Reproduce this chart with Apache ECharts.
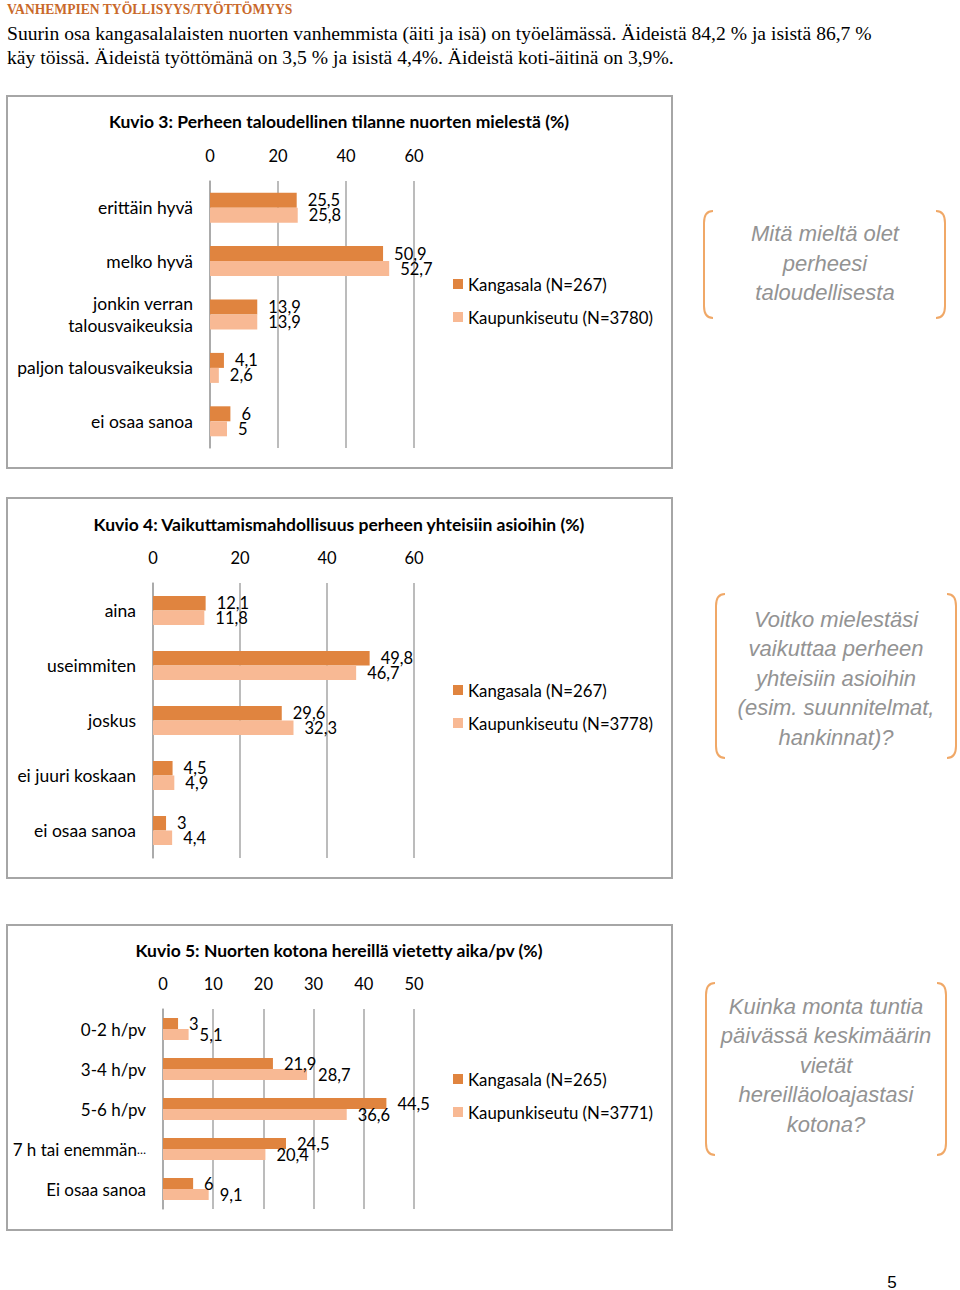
<!DOCTYPE html>
<html><head><meta charset="utf-8">
<script src="https://cdn.jsdelivr.net/npm/echarts@6/dist/echarts.min.js"></script>
<style>html,body{margin:0;padding:0;background:#fff}#c{width:960px;height:1290px}</style>
</head><body><div id="c"></div>
<script>
// ---- Data ----
const cats1 = ['erittäin hyvä', 'melko hyvä', 'jonkin verran\ntalousvaikeuksia', 'paljon talousvaikeuksia', 'ei osaa sanoa'];
const kangasala1 = [25.5, 50.9, 13.9, 4.1, 6];
const kaupunki1 = [25.8, 52.7, 13.9, 2.6, 5];
const names1 = ['Kangasala (N=267)', 'Kaupunkiseutu (N=3780)'];

const cats2 = ['aina', 'useimmiten', 'joskus', 'ei juuri koskaan', 'ei osaa sanoa'];
const kangasala2 = [12.1, 49.8, 29.6, 4.5, 3];
const kaupunki2 = [11.8, 46.7, 32.3, 4.9, 4.4];
const names2 = ['Kangasala (N=267)', 'Kaupunkiseutu (N=3778)'];

const cats3 = ['0-2 h/pv', '3-4 h/pv', '5-6 h/pv', '7 h tai enemmän…', 'Ei osaa sanoa'];
const kangasala3 = [3, 21.9, 44.5, 24.5, 6];
const kaupunki3 = [5.1, 28.7, 36.6, 20.4, 9.1];
const names3 = ['Kangasala (N=265)', 'Kaupunkiseutu (N=3771)'];

const titles = [
  'Kuvio 3: Perheen taloudellinen tilanne nuorten mielestä (%)',
  'Kuvio 4: Vaikuttamismahdollisuus perheen yhteisiin asioihin (%)',
  'Kuvio 5: Nuorten kotona hereillä vietetty aika/pv (%)'
];
const questions = [
  'Mitä mieltä olet\nperheesi\ntaloudellisesta',
  'Voitko mielestäsi\nvaikuttaa perheen\nyhteisiin asioihin\n(esim. suunnitelmat,\nhankinnat)?',
  'Kuinka monta tuntia\npäivässä keskimäärin\nvietät\nhereilläoloajastasi\nkotona?'
];
const heading = 'VANHEMPIEN TYÖLLISYYS/TYÖTTÖMYYS';
const bodyLines = [
  'Suurin osa kangasalalaisten nuorten vanhemmista (äiti ja isä) on työelämässä. Äideistä 84,2 % ja isistä 86,7 %',
  'käy töissä. Äideistä työttömänä on 3,5 % ja isistä 4,4%. Äideistä koti-äitinä on 3,9%.'
];
const pageNo = '5';

// ---- Style ----
const DARK = '#E0843F', LIGHT = '#F8B994';
const FONT = 'Lato';
const GRID = '#A6A6A6';

const chart = echarts.init(document.getElementById('c'), null, {renderer: 'svg'});

const grids = [
  {left: 210, top: 181, width: 204, height: 267},
  {left: 153, top: 583, width: 261, height: 275},
  {left: 163, top: 1009, width: 251, height: 200}
];
const axes = [{max: 60, interval: 20}, {max: 60, interval: 20}, {max: 50, interval: 10}];
const cats = [cats1, cats2, cats3];
const dataK = [kangasala1, kangasala2, kangasala3];
const dataC = [kaupunki1, kaupunki2, kaupunki3];
const names = [names1, names2, names3];
const barW = [15, 14.5, 11];
const catFont = [17.5, 17.5, 17];
const legendTop = [269, 675, 1064];

const fmt = p => String(p.value).replace('.', ',');
const catFmt = v => v.replace('…', '{e|…}');

const xAxis = [], yAxis = [], series = [], legend = [];
for (let i = 0; i < 3; i++) {
  xAxis.push({
    gridIndex: i, type: 'value', position: 'top', min: 0, max: axes[i].max, interval: axes[i].interval,
    axisLine: {show: false}, axisTick: {show: false},
    splitLine: {show: true, lineStyle: {color: GRID, width: 1.5}},
    axisLabel: {fontFamily: FONT, fontSize: 16.5, color: '#000', margin: 17}
  });
  yAxis.push({
    gridIndex: i, type: 'category', inverse: true, data: cats[i],
    axisLine: {show: true, lineStyle: {color: GRID, width: 1.5}}, axisTick: {show: false},
    axisLabel: {fontFamily: FONT, fontSize: catFont[i], color: '#000', margin: 17, lineHeight: 22, align: 'right',
      formatter: catFmt, rich: {e: {fontFamily: FONT, fontSize: 12, color: '#000'}}}
  });
  const lab = {show: true, position: 'right', distance: 11, fontFamily: FONT, fontSize: 16.5, color: '#000', formatter: fmt};
  series.push({
    name: names[i][0], type: 'bar', xAxisIndex: i, yAxisIndex: i, data: dataK[i],
    barWidth: barW[i], barGap: '0%', itemStyle: {color: DARK}, label: lab, silent: true
  });
  series.push({
    name: names[i][1], type: 'bar', xAxisIndex: i, yAxisIndex: i, data: dataC[i],
    barWidth: barW[i], barGap: '0%', itemStyle: {color: LIGHT}, label: lab, silent: true
  });
  legend.push({
    data: names[i], orient: 'vertical', left: 448, top: legendTop[i],
    itemWidth: 10, itemHeight: 10, itemGap: 13, icon: 'rect', selectedMode: false,
    textStyle: {fontFamily: FONT, fontSize: 16.8, color: '#000', lineHeight: 20}
  });
}

// ---- Decorations ----
const boxes = [[7, 96, 665, 372], [7, 498, 665, 380], [7, 925, 665, 305]];
const titleY = [121, 524, 950];
const callouts = [
  {cx: 825, cy: 263, x1: 704, x2: 945, y1: 211, y2: 318},
  {cx: 836, cy: 678, x1: 716, x2: 956, y1: 594, y2: 758},
  {cx: 826, cy: 1065, x1: 706, x2: 946, y1: 983, y2: 1155}
];
const BR = '#F0A867';
const graphic = [];
boxes.forEach(b => graphic.push({type: 'rect', shape: {x: b[0], y: b[1], width: b[2], height: b[3]},
  style: {fill: 'none', stroke: '#A6A6A6', lineWidth: 2}, silent: true}));
titles.forEach((t, i) => graphic.push({type: 'text', x: 339, y: titleY[i],
  style: {text: t, font: 'bold 17.5px ' + FONT, fill: '#000', textAlign: 'center', textVerticalAlign: 'middle'}}));
function bracket(x, y1, y2, dir) {
  const r = 9, h = 12;
  const st = {fill: 'none', stroke: BR, lineWidth: 2};
  graphic.push({type: 'bezierCurve', shape: {x1: x + dir * r, y1: y1, x2: x, y2: y1 + h, cpx1: x, cpy1: y1}, style: st, silent: true});
  graphic.push({type: 'line', shape: {x1: x, y1: y1 + h, x2: x, y2: y2 - h}, style: st, silent: true});
  graphic.push({type: 'bezierCurve', shape: {x1: x, y1: y2 - h, x2: x + dir * r, y2: y2, cpx1: x, cpy1: y2}, style: st, silent: true});
}
callouts.forEach((c, i) => {
  bracket(c.x1, c.y1, c.y2, 1);
  bracket(c.x2, c.y1, c.y2, -1);
  graphic.push({type: 'text', x: c.cx, y: c.cy,
    style: {text: questions[i], font: 'italic 22px "Liberation Sans", Arial', fill: '#939393',
      textAlign: 'center', textVerticalAlign: 'middle', lineHeight: 29.5}});
});
graphic.push({type: 'text', x: 7, y: 9, style: {text: heading, font: 'bold 13.6px "Liberation Serif", serif', fill: '#C9692A', textVerticalAlign: 'middle'}});
bodyLines.forEach((l, i) => graphic.push({type: 'text', x: 7, y: 33 + i * 24.5,
  style: {text: l, font: '19.6px "Liberation Serif", serif', fill: '#000', textVerticalAlign: 'middle'}}));
graphic.push({type: 'text', x: 892, y: 1282, style: {text: pageNo, font: '17px "Liberation Sans", Arial', fill: '#000', textAlign: 'center', textVerticalAlign: 'middle'}});

chart.setOption({
  animation: false,
  grid: grids, xAxis, yAxis, series, legend, graphic
});
</script></body></html>
